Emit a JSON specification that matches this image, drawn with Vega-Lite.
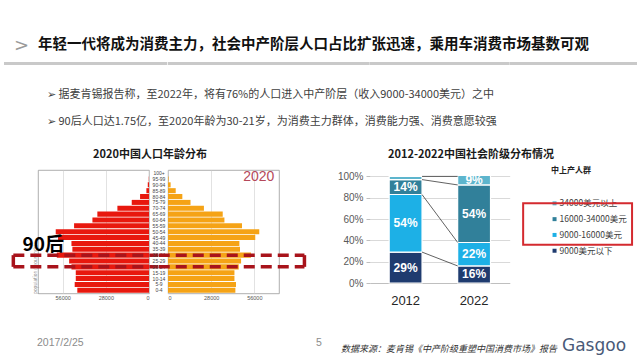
{
  "$schema": "https://vega.github.io/schema/vega-lite/v6.json",
  "background": "white",
  "padding": {"left": 4, "top": 36, "right": 4, "bottom": 4},
  "config": {
    "view": {"stroke": null},
    "font": "Noto Sans CJK SC",
    "title": {"font": "Noto Sans CJK SC", "frame": "group"},
    "axis": {"labelFont": "Liberation Sans"}
  },
  "datasets": {
    "pyramid": [
      {"age": "100+", "male": 0, "female": 0},
      {"age": "95-99", "male": 150, "female": 400},
      {"age": "90-94", "male": 800, "female": 1700},
      {"age": "85-89", "male": 1700, "female": 5000},
      {"age": "80-84", "male": 5800, "female": 9300},
      {"age": "75-79", "male": 11200, "female": 14600},
      {"age": "70-74", "male": 20500, "female": 23300},
      {"age": "65-69", "male": 33500, "female": 35500},
      {"age": "60-64", "male": 36700, "female": 36600},
      {"age": "55-59", "male": 48600, "female": 48000},
      {"age": "50-54", "male": 60500, "female": 59200},
      {"age": "45-49", "male": 59000, "female": 56600},
      {"age": "40-44", "male": 50300, "female": 46300},
      {"age": "35-39", "male": 49700, "female": 46700},
      {"age": "30-34", "male": 59800, "female": 53800},
      {"age": "25-29", "male": 51800, "female": 47400},
      {"age": "20-24", "male": 50300, "female": 45900},
      {"age": "15-19", "male": 47500, "female": 43100},
      {"age": "10-14", "male": 47500, "female": 43100},
      {"age": "5-9", "male": 48200, "female": 44100},
      {"age": "0-4", "male": 46500, "female": 43700}
    ],
    "stack": [
      {"year": "2012", "cls": "9000美元以下", "rank": 1, "share": 0.29},
      {"year": "2012", "cls": "9000-16000美元", "rank": 2, "share": 0.54},
      {"year": "2012", "cls": "16000-34000美元", "rank": 3, "share": 0.14},
      {"year": "2012", "cls": "34000美元以上", "rank": 4, "share": 0.03},
      {"year": "2022", "cls": "9000美元以下", "rank": 1, "share": 0.16},
      {"year": "2022", "cls": "9000-16000美元", "rank": 2, "share": 0.22},
      {"year": "2022", "cls": "16000-34000美元", "rank": 3, "share": 0.54},
      {"year": "2022", "cls": "34000美元以上", "rank": 4, "share": 0.09}
    ],
    "links": [
      {"from": "2012", "to": "2022", "a": 0.29, "b": 0.16},
      {"from": "2012", "to": "2022", "a": 0.83, "b": 0.38},
      {"from": "2012", "to": "2022", "a": 0.97, "b": 0.92},
      {"from": "2012", "to": "2022", "a": 1.0, "b": 1.0}
    ],
    "classes": [
      {"cls": "34000美元以上", "rank": 4},
      {"cls": "16000-34000美元", "rank": 3},
      {"cls": "9000-16000美元", "rank": 2},
      {"cls": "9000美元以下", "rank": 1}
    ]
  },
  "columns": 8,
  "align": "each",
  "bounds": "flush",
  "spacing": 0,
  "concat": [
    {"width": 34, "height": 3, "data": {"values": []}, "mark": "point", "view": {"fill": "#C9C9C9", "stroke": null},
      "title": {"text": ">", "anchor": "start", "dx": 10, "offset": 7, "fontSize": 18, "fontWeight": "normal", "color": "#9A9A9A", "font": "DejaVu Sans"}},
    {"width": 111, "height": 3, "data": {"values": []}, "mark": "point", "view": {"fill": "#C9C9C9", "stroke": null},
      "title": {"text": "年轻一代将成为消费主力，社会中产阶层人口占比扩张迅速，乘用车消费市场基数可观", "anchor": "start", "dx": 0, "offset": 10, "fontSize": 14.5, "fontWeight": "bold", "color": "#111111"}},
    {"width": 18.3, "height": 3, "data": {"values": []}, "mark": "point", "view": {"fill": "#C9C9C9", "stroke": null}},
    {"width": 111, "height": 3, "data": {"values": []}, "mark": "point", "view": {"fill": "#C9C9C9", "stroke": null}},
    {"width": 90.7, "height": 3, "data": {"values": []}, "mark": "point", "view": {"fill": "#C9C9C9", "stroke": null}},
    {"width": 139.7, "height": 3, "data": {"values": []}, "mark": "point", "view": {"fill": "#C9C9C9", "stroke": null}},
    {"width": 12, "height": 3, "data": {"values": []}, "mark": "point", "view": {"fill": "#C9C9C9", "stroke": null}},
    {"width": 115, "height": 3, "data": {"values": []}, "mark": "point", "view": {"fill": "#C9C9C9", "stroke": null}},

    {"width": 34, "height": 1, "data": {"values": []}, "mark": "point",
      "title": {
        "text": ["➢  据麦肯锡报告称，至2022年，将有76%的人口进入中产阶层（收入9000-34000美元）之中", "➢  90后人口达1.75亿，至2020年龄为30-21岁，为消费主力群体，消费能力强、消费意愿较强"],
        "orient": "bottom", "anchor": "start", "dx": 43, "offset": 23, "fontSize": 11, "fontWeight": "normal", "color": "#404040", "lineHeight": 27
      }},
    {"width": 111, "height": 1, "data": {"values": []}, "mark": "point"},
    {"width": 18.3, "height": 1, "data": {"values": []}, "mark": "point"},
    {"width": 111, "height": 1, "data": {"values": []}, "mark": "point"},
    {"width": 90.7, "height": 1, "data": {"values": []}, "mark": "point"},
    {"width": 139.7, "height": 1, "data": {"values": []}, "mark": "point"},
    {"width": 12, "height": 1, "data": {"values": []}, "mark": "point"},
    {"width": 115, "height": 1, "data": {"values": []}, "mark": "point"},

    {"width": 34, "height": 103.3, "data": {"values": []}, "mark": "point"},
    {"width": 111, "height": 1, "data": {"values": []}, "mark": "point"},
    {"width": 18.3, "height": 1, "data": {"values": []}, "mark": "point"},
    {"width": 111, "height": 1, "data": {"values": []}, "mark": "point"},
    {"width": 90.7, "height": 1, "data": {"values": []}, "mark": "point"},
    {"width": 139.7, "height": 1, "data": {"values": []}, "mark": "point"},
    {"width": 12, "height": 1, "data": {"values": []}, "mark": "point"},
    {"width": 115, "height": 1, "data": {"values": []}, "mark": "point"},

    {"width": 34, "height": 1, "data": {"values": []}, "mark": "point"},
    {
      "width": 111, "height": 123.4,
      "view": {"stroke": "#9a9a9a", "strokeWidth": 0.8},
      "title": {"text": "2020中国人口年龄分布", "anchor": "start", "dx": 55, "offset": 10, "fontSize": 11, "fontWeight": "bold", "color": "#1a1a1a"},
      "layer": [
        {
          "data": {"name": "pyramid"},
          "mark": {"type": "bar", "color": "#E8180E"},
          "encoding": {
            "y": {"field": "age", "type": "nominal",
              "scale": {"domain": ["100+","95-99","90-94","85-89","80-84","75-79","70-74","65-69","60-64","55-59","50-54","45-49","40-44","35-39","30-34","25-29","20-24","15-19","10-14","5-9","0-4"], "paddingInner": 0.14, "paddingOuter": 0.1},
              "axis": {"orient": "left", "labels": false, "ticks": false, "domain": false, "title": "population (thousands)", "titleFontSize": 4.5, "titleColor": "#888888", "titlePadding": 1, "titleAnchor": "end", "titleAlign": "left", "titleFontWeight": "normal"}},
            "x": {"field": "male", "type": "quantitative",
              "scale": {"domain": [0, 72000], "reverse": true, "nice": false},
              "axis": {"values": [0, 14000, 28000, 42000, 56000, 70000], "format": "d", "labelFontSize": 5.5, "labelColor": "#555555", "grid": true, "gridColor": "#cfcfcf", "gridWidth": 0.6, "domain": false, "ticks": false, "labelPadding": 2, "title": null}}
          }
        },
        {
          "data": {"values": [{"edge": "top"}]},
          "mark": {"type": "rule", "color": "#A8131B", "strokeWidth": 3.5, "strokeDash": [11, 6]},
          "encoding": {"x": {"datum": 88000}, "x2": {"datum": -6000}, "y": {"datum": "30-34"}}
        },
        {
          "data": {"values": [{"edge": "bottom"}]},
          "mark": {"type": "rule", "color": "#A8131B", "strokeWidth": 3.5, "strokeDash": [11, 6]},
          "encoding": {"x": {"datum": 88000}, "x2": {"datum": -6000}, "y": {"datum": "20-24"}}
        },
        {
          "data": {"values": [{"edge": "side"}]},
          "mark": {"type": "rule", "color": "#A8131B", "strokeWidth": 3.5},
          "encoding": {"x": {"datum": 88000}, "y": {"datum": "30-34"}, "y2": {"datum": "20-24"}}
        },
        {
          "data": {"values": [{"label": "90后"}]},
          "mark": {"type": "text", "align": "left", "baseline": "middle", "fontSize": 19, "fontWeight": "bold", "color": "#000000", "dy": 2},
          "encoding": {"x": {"datum": 82000}, "y": {"datum": "40-44"}, "text": {"field": "label"}}
        }
      ]
    },
    {"width": 18.3, "height": 1, "data": {"values": []}, "mark": "point"},
    {
      "width": 111, "height": 123.4,
      "view": {"stroke": "#9a9a9a", "strokeWidth": 0.8},
      "layer": [
        {
          "data": {"name": "pyramid"},
          "mark": {"type": "bar", "color": "#F5A316"},
          "encoding": {
            "y": {"field": "age", "type": "nominal",
              "scale": {"domain": ["100+","95-99","90-94","85-89","80-84","75-79","70-74","65-69","60-64","55-59","50-54","45-49","40-44","35-39","30-34","25-29","20-24","15-19","10-14","5-9","0-4"], "paddingInner": 0.14, "paddingOuter": 0.1},
              "axis": {"orient": "left", "labelAlign": "center", "labelBaseline": "middle", "labelPadding": 9.5, "labelFontSize": 5, "labelColor": "#444444", "labelOverlap": false, "domain": false, "ticks": false, "title": null}},
            "x": {"field": "female", "type": "quantitative",
              "scale": {"domain": [0, 72000], "nice": false},
              "axis": {"values": [0, 14000, 28000, 42000, 56000, 70000], "format": "d", "labelFontSize": 5.5, "labelColor": "#555555", "grid": true, "gridColor": "#cfcfcf", "gridWidth": 0.6, "domain": false, "ticks": false, "labelPadding": 2, "title": null}}
          }
        },
        {
          "data": {"values": [{"edge": "top"}]},
          "mark": {"type": "rule", "color": "#A8131B", "strokeWidth": 3.5, "strokeDash": [11, 6]},
          "encoding": {"x": {"datum": -6000}, "x2": {"datum": 88500}, "y": {"datum": "30-34"}}
        },
        {
          "data": {"values": [{"edge": "bottom"}]},
          "mark": {"type": "rule", "color": "#A8131B", "strokeWidth": 3.5, "strokeDash": [11, 6]},
          "encoding": {"x": {"datum": -6000}, "x2": {"datum": 88500}, "y": {"datum": "20-24"}}
        },
        {
          "data": {"values": [{"edge": "side"}]},
          "mark": {"type": "rule", "color": "#A8131B", "strokeWidth": 3.5},
          "encoding": {"x": {"datum": 88500}, "y": {"datum": "30-34"}, "y2": {"datum": "20-24"}}
        },
        {
          "data": {"values": [{"label": "2020"}]},
          "mark": {"type": "text", "align": "right", "baseline": "middle", "fontSize": 14, "color": "#B5485A", "font": "Liberation Sans", "dy": 4},
          "encoding": {"x": {"datum": 69000}, "y": {"datum": "100+"}, "text": {"field": "label"}}
        }
      ]
    },
    {"width": 90.7, "height": 1, "data": {"values": []}, "mark": "point"},
    {
      "width": 139.7, "height": 123.4,
      "title": {"text": "2012-2022中国社会阶级分布情况", "anchor": "start", "dx": 18, "offset": 10, "fontSize": 11, "fontWeight": "bold", "color": "#1a1a1a"},
      "layer": [
        {
          "data": {"name": "stack"},
          "mark": {"type": "bar", "stroke": "white", "strokeWidth": 1.2},
          "encoding": {
            "x": {"field": "year", "type": "nominal", "scale": {"paddingInner": 0.52, "paddingOuter": 0.28},
              "axis": {"labelAngle": 0, "labelFontSize": 13, "labelColor": "#262626", "domainColor": "#bfbfbf", "ticks": false, "labelPadding": 11, "offset": -10.4, "title": null}},
            "y": {"field": "share", "type": "quantitative", "stack": "zero",
              "scale": {"domain": [-0.0975, 1.06], "nice": false, "zero": false},
              "axis": {"values": [0, 0.2, 0.4, 0.6, 0.8, 1], "format": ".0%", "labelOverlap": false, "labelFontSize": 10, "labelColor": "#595959", "grid": true, "gridColor": "#d9d9d9", "domain": false, "tickColor": "#bfbfbf", "tickSize": 4, "labelPadding": 3, "title": null}},
            "color": {"field": "cls", "type": "nominal",
              "scale": {"domain": ["9000美元以下", "9000-16000美元", "16000-34000美元", "34000美元以上"], "range": ["#1F3B6F", "#1DB0E6", "#31809A", "#5DB5CD"]},
              "legend": null},
            "order": {"field": "rank", "type": "quantitative"}
          }
        },
        {
          "data": {"name": "links"},
          "mark": {"type": "rule", "color": "#3a3a3a", "strokeWidth": 0.8, "xOffset": 16.4, "x2Offset": -16.4},
          "encoding": {
            "x": {"field": "from", "type": "nominal",
              "axis": {"labelAngle": 0, "labelFontSize": 13, "labelColor": "#262626", "domainColor": "#bfbfbf", "ticks": false, "labelPadding": 11, "offset": -10.4, "title": null}},
            "x2": {"field": "to"},
            "y": {"field": "a", "type": "quantitative",
              "axis": {"values": [0, 0.2, 0.4, 0.6, 0.8, 1], "format": ".0%", "labelOverlap": false, "labelFontSize": 10, "labelColor": "#595959", "grid": true, "gridColor": "#d9d9d9", "domain": false, "tickColor": "#bfbfbf", "tickSize": 4, "labelPadding": 3, "title": null}},
            "y2": {"field": "b"}
          }
        },
        {
          "data": {"name": "stack"},
          "transform": [{"filter": "datum.share >= 0.05"}],
          "mark": {"type": "text", "color": "white", "fontSize": 12, "fontWeight": "bold", "font": "Liberation Sans", "baseline": "middle"},
          "encoding": {
            "x": {"field": "year", "type": "nominal",
              "axis": {"labelAngle": 0, "labelFontSize": 13, "labelColor": "#262626", "domainColor": "#bfbfbf", "ticks": false, "labelPadding": 11, "offset": -10.4, "title": null}},
            "y": {"field": "share", "type": "quantitative", "stack": "zero", "bandPosition": 0.5,
              "axis": {"values": [0, 0.2, 0.4, 0.6, 0.8, 1], "format": ".0%", "labelOverlap": false, "labelFontSize": 10, "labelColor": "#595959", "grid": true, "gridColor": "#d9d9d9", "domain": false, "tickColor": "#bfbfbf", "tickSize": 4, "labelPadding": 3, "title": null}},
            "detail": {"field": "cls"},
            "order": {"field": "rank", "type": "quantitative"},
            "text": {"field": "share", "format": ".0%"}
          }
        }
      ]
    },
    {"width": 12, "height": 1, "data": {"values": []}, "mark": "point"},
    {
      "width": 115, "height": 123.4,
      "title": {"text": "中上产人群", "anchor": "start", "dx": 29, "offset": -5, "fontSize": 8, "fontWeight": "bold", "color": "#222222"},
      "layer": [
        {
          "data": {"name": "classes"},
          "mark": {"type": "square", "size": 16, "opacity": 1},
          "encoding": {
            "x": {"datum": 0.283, "type": "quantitative", "scale": {"domain": [0, 1], "nice": false}, "axis": null},
            "y": {"field": "rank", "type": "quantitative", "scale": {"domain": [-1.7, 6.11], "nice": false, "zero": false}, "axis": null},
            "color": {"field": "cls", "type": "nominal",
              "scale": {"domain": ["9000美元以下", "9000-16000美元", "16000-34000美元", "34000美元以上"], "range": ["#1F3B6F", "#1DB0E6", "#31809A", "#5DB5CD"]},
              "legend": null}
          }
        },
        {
          "data": {"name": "classes"},
          "mark": {"type": "text", "align": "left", "baseline": "middle", "dx": 5, "fontSize": 8.5, "color": "#404040"},
          "encoding": {
            "x": {"datum": 0.283, "type": "quantitative"},
            "y": {"field": "rank", "type": "quantitative"},
            "text": {"field": "cls"}
          }
        },
        {
          "data": {"values": [{"box": "highlight"}]},
          "mark": {"type": "rect", "filled": false, "stroke": "#D42A2F", "strokeWidth": 2},
          "encoding": {
            "x": {"datum": 0.01, "type": "quantitative"},
            "x2": {"datum": 0.957},
            "y": {"datum": 4.0, "type": "quantitative"},
            "y2": {"datum": 1.38}
          }
        }
      ]
    },

    {"width": 34, "height": 1, "data": {"values": []}, "mark": "point"},
    {"width": 111, "height": 1, "data": {"values": []}, "mark": "point",
      "title": {"text": "2017/2/25", "orient": "bottom", "anchor": "start", "dx": -1, "offset": 43, "fontSize": 10.5, "fontWeight": "normal", "color": "#8C8C8C", "font": "Liberation Sans"}},
    {"width": 18.3, "height": 1, "data": {"values": []}, "mark": "point"},
    {"width": 111, "height": 1, "data": {"values": []}, "mark": "point",
      "title": {"text": "5", "orient": "bottom", "anchor": "start", "dx": 148, "offset": 43, "fontSize": 10.5, "fontWeight": "normal", "color": "#8C8C8C", "font": "Liberation Sans"}},
    {"width": 90.7, "height": 1, "data": {"values": []}, "mark": "point",
      "title": {"text": "数据来源：麦肯锡《中产阶级重塑中国消费市场》报告", "orient": "bottom", "anchor": "start", "dx": 62, "offset": 50, "fontSize": 9, "fontWeight": "normal", "fontStyle": "italic", "color": "#333333"}},
    {"width": 139.7, "height": 1, "data": {"values": []}, "mark": "point"},
    {"width": 12, "height": 1, "data": {"values": []}, "mark": "point"},
    {"width": 115, "height": 1, "data": {"values": []}, "mark": "point",
      "title": {"text": "Gasgoo", "orient": "bottom", "anchor": "start", "dx": 40, "offset": 43, "fontSize": 17, "fontWeight": "normal", "color": "#4A5A78", "font": "DejaVu Sans"}}
  ]
}
